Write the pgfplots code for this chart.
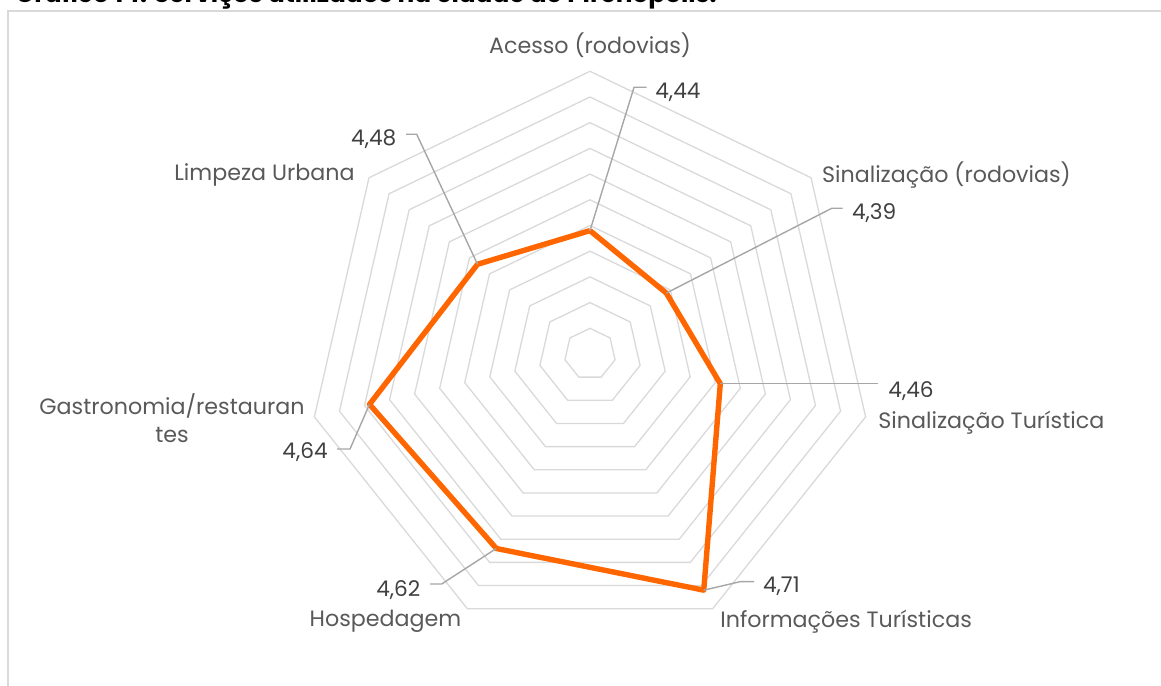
\documentclass[border=0pt]{standalone}
\usepackage{fontspec}
\setmainfont{Poppins}
\usepackage{pgfplots}
\usepackage{pgfplotstable}
\pgfplotsset{compat=1.18}
\definecolor{gridc}{HTML}{D9D9D9}
\definecolor{serie}{HTML}{FF6600}
\definecolor{lead}{HTML}{A6A6A6}
\definecolor{labc}{HTML}{595959}
\definecolor{datc}{HTML}{404040}

% k = axis index (clockwise from top), v = mean score
\pgfplotstableread{
k v
0 4.44
1 4.39
2 4.46
3 4.71
4 4.62
5 4.64
6 4.48
7 4.44
}\dados

\begin{document}
\begin{tikzpicture}
% radar grid: 11 heptagons, 4.25 ... 4.75 (step 0.05), centre 4.20
\begin{scope}[shift={(295pt,165.5pt)}]
\foreach \k in {1,...,11}{
  \draw[gridc, line width=0.65pt, line join=miter]
    (90:{\k*12.85pt})
    \foreach \j in {1,...,6}{ -- ({90-\j*360/7}:{\k*12.85pt}) } -- cycle;
}
\end{scope}
\begin{axis}[
  name=ax, at={(0,0)}, anchor=south west,
  scale only axis, width=580.5pt, height=342.5pt,
  xmin=0, xmax=1161, ymin=0, ymax=685,
  hide axis, clip=false,
]
% chart border (top and left visible)
\draw[gridc, line width=0.75pt] (axis cs:8,-20) -- (axis cs:8,674) -- (axis cs:1190,674);
% title (mostly outside the visible area)
\node[anchor=base west, inner sep=0pt, font=\bfseries\fontsize{12.4}{14}\selectfont, text=black]
  at (axis cs:15,682) {Gráfico 14: Serviços utilizados na cidade de Pirenópolis.};

\addplot[serie, line width=2.7pt, line join=round, no markers]
  table[x expr={590+(\thisrow{v}-4.2)*514*sin(\thisrow{k}*360/7)},
        y expr={331+(\thisrow{v}-4.2)*514*cos(\thisrow{k}*360/7)}] {\dados};

% leader lines
\begin{scope}[lead, line width=0.7pt]
\draw (axis cs:590,454.4) -- (axis cs:634,597.7) -- (axis cs:646.7,597.7);
\draw (axis cs:666.3,391.9) -- (axis cs:831.7,476.7) -- (axis cs:842.7,476.7);
\draw (axis cs:720.3,301.5) -- (axis cs:878,301.5);
\draw (axis cs:703.7,94.8) -- (axis cs:740,103.3) -- (axis cs:754,103.3);
\draw (axis cs:496.3,136.5) -- (axis cs:441.7,101) -- (axis cs:430,101);
\draw (axis cs:369.5,280.7) -- (axis cs:350,236) -- (axis cs:337,236);
\draw (axis cs:477.5,420.7) -- (axis cs:416.7,550.7) -- (axis cs:406,550.7);
\end{scope}

% data labels
\begin{scope}[every node/.append style={text=datc, inner sep=0pt, font=\fontsize{10.8}{13}\selectfont}]
\node[anchor=base west] at (axis cs:655,586) {4,44};
\node[anchor=base west] at (axis cs:851.7,465) {4,39};
\node[anchor=base west] at (axis cs:888,287) {4,46};
\node[anchor=base west] at (axis cs:762.7,92) {4,71};
\node[anchor=base east] at (axis cs:420.7,88.3) {4,62};
\node[anchor=base east] at (axis cs:328,226) {4,64};
\node[anchor=base east] at (axis cs:396.7,539) {4,48};
\end{scope}

% category labels
\begin{scope}[every node/.append style={text=labc, inner sep=0pt, font=\fontsize{11.1}{13}\selectfont}]
\node[anchor=base] at (axis cs:590,631) {Acesso (rodovias)};
\node[anchor=base west] at (axis cs:821.7,502.3) {Sinalização (rodovias)};
\node[anchor=base west] at (axis cs:878,256.7) {Sinalização Turística};
\node[anchor=base west] at (axis cs:720,57.3) {Informações Turísticas};
\node[anchor=base east] at (axis cs:461.7,58) {Hospedagem};
\node[anchor=base east] (g1) at (axis cs:305,270) {Gastronomia/restauran};
\node[anchor=base] at ([yshift=-14pt]g1.base) {tes};
\node[anchor=base east] at (axis cs:355,504) {Limpeza Urbana};
\end{scope}
\end{axis}
\pgfresetboundingbox
\path[use as bounding box] (0,0) rectangle (580.5pt,342.5pt);
\end{tikzpicture}
\end{document}
